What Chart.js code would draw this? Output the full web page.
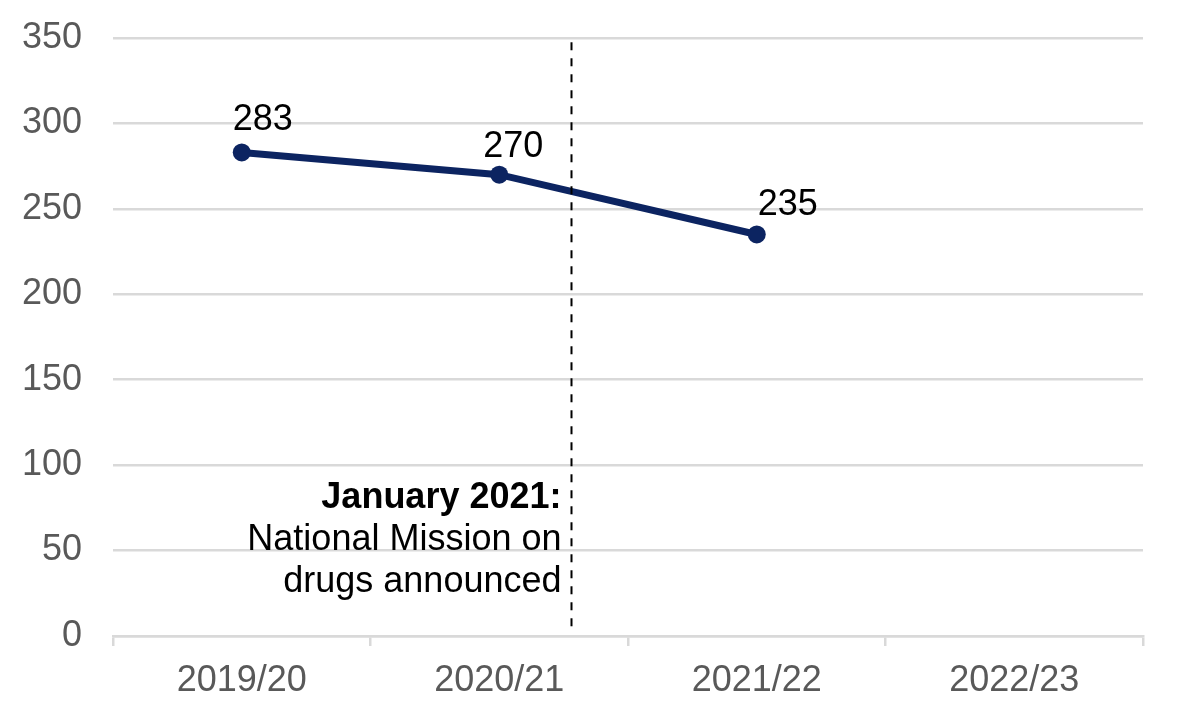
<!DOCTYPE html>
<html>
<head>
<meta charset="utf-8">
<script src="https://cdn.jsdelivr.net/npm/chart.js@4.4.0/dist/chart.umd.min.js"></script>
<style>
  html, body { margin: 0; padding: 0; background: #fff; }
  #wrap { width: 1190px; height: 718px; position: relative; }
</style>
</head>
<body>
<div id="wrap"><canvas id="c"></canvas></div>
<script>
const categories = ['2019/20', '2020/21', '2021/22', '2022/23'];
const values = [283, 270, 235, null];
const yTicks = [0, 50, 100, 150, 200, 250, 300, 350];
const annotationTitle = 'January 2021:';
const annotationLines = ['National Mission on', 'drugs announced'];

const FONT = '"Liberation Sans", Arial, Helvetica, sans-serif';
const LINE_COLOR = '#0c2461';
const GRID_COLOR = '#d9d9d9';
const TICK_COLOR = '#595959';

const labelOffsets = [[21, -32], [14, -28], [31, -29]];

const overlay = {
  id: 'overlay',
  afterDatasetsDraw(chart) {
    const ctx = chart.ctx;
    const x = chart.scales.x, y = chart.scales.y;
    // vertical dashed line (January 2021)
    const lx = Math.round(x.getPixelForValue(1.28)) + 0.5;
    ctx.save();
    ctx.strokeStyle = '#000';
    ctx.lineWidth = 2;
    ctx.setLineDash([8, 8]);
    ctx.beginPath();
    ctx.moveTo(lx, y.getPixelForValue(347.5));
    ctx.lineTo(lx, y.getPixelForValue(2));
    ctx.stroke();
    ctx.restore();

    // annotation text
    ctx.save();
    ctx.fillStyle = '#000';
    ctx.textAlign = 'right';
    ctx.textBaseline = 'alphabetic';
    const tx = lx - 10;
    const by = y.getPixelForValue(75);
    ctx.font = 'bold 36px ' + FONT;
    ctx.fillText(annotationTitle, tx, by);
    ctx.font = '36px ' + FONT;
    annotationLines.forEach((t, i) => ctx.fillText(t, tx, by + 42 * (i + 1)));
    ctx.restore();

    // data labels
    const meta = chart.getDatasetMeta(0);
    ctx.save();
    ctx.fillStyle = '#000';
    ctx.font = '36px ' + FONT;
    ctx.textAlign = 'center';
    ctx.textBaseline = 'middle';
    meta.data.forEach((pt, i) => {
      if (values[i] == null) return;
      const off = labelOffsets[i] || [0, -30];
      ctx.fillText(String(values[i]), pt.x + off[0], pt.y + off[1]);
    });
    ctx.restore();
  }
};

new Chart(document.getElementById('c'), {
  type: 'line',
  data: {
    labels: categories,
    datasets: [{
      data: values,
      borderColor: LINE_COLOR,
      backgroundColor: LINE_COLOR,
      borderWidth: 7,
      pointRadius: 9,
      pointHoverRadius: 9,
      pointBorderWidth: 0,
      tension: 0,
      fill: false
    }]
  },
  options: {
    responsive: true,
    maintainAspectRatio: false,
    animation: false,
    events: [],
    layout: { padding: { top: 38, right: 47, bottom: 0, left: 0 } },
    plugins: { legend: { display: false }, tooltip: { enabled: false } },
    scales: {
      x: {
        type: 'category',
        offset: true,
        grid: {
          offset: true,
          drawOnChartArea: false,
          drawTicks: true,
          tickLength: 10,
          color: GRID_COLOR,
          lineWidth: 2.5
        },
        border: { display: true, color: GRID_COLOR, width: 2.5 },
        ticks: {
          color: TICK_COLOR,
          font: { family: FONT, size: 36 },
          padding: 13,
          maxRotation: 0,
          autoSkip: false
        },
        afterFit(scale) { scale.height = 82; }
      },
      y: {
        min: 0,
        max: 350,
        afterBuildTicks(scale) { scale.ticks = yTicks.map(v => ({ value: v })); },
        grid: {
          drawTicks: true,
          tickLength: 31,
          tickColor: 'rgba(0,0,0,0)',
          color: GRID_COLOR,
          lineWidth: 2.5
        },
        border: { display: false },
        ticks: {
          color: TICK_COLOR,
          font: { family: FONT, size: 36 },
          padding: 0
        },
        afterFit(scale) { scale.width = 113; }
      }
    }
  },
  plugins: [overlay]
});
</script>
</body>
</html>
